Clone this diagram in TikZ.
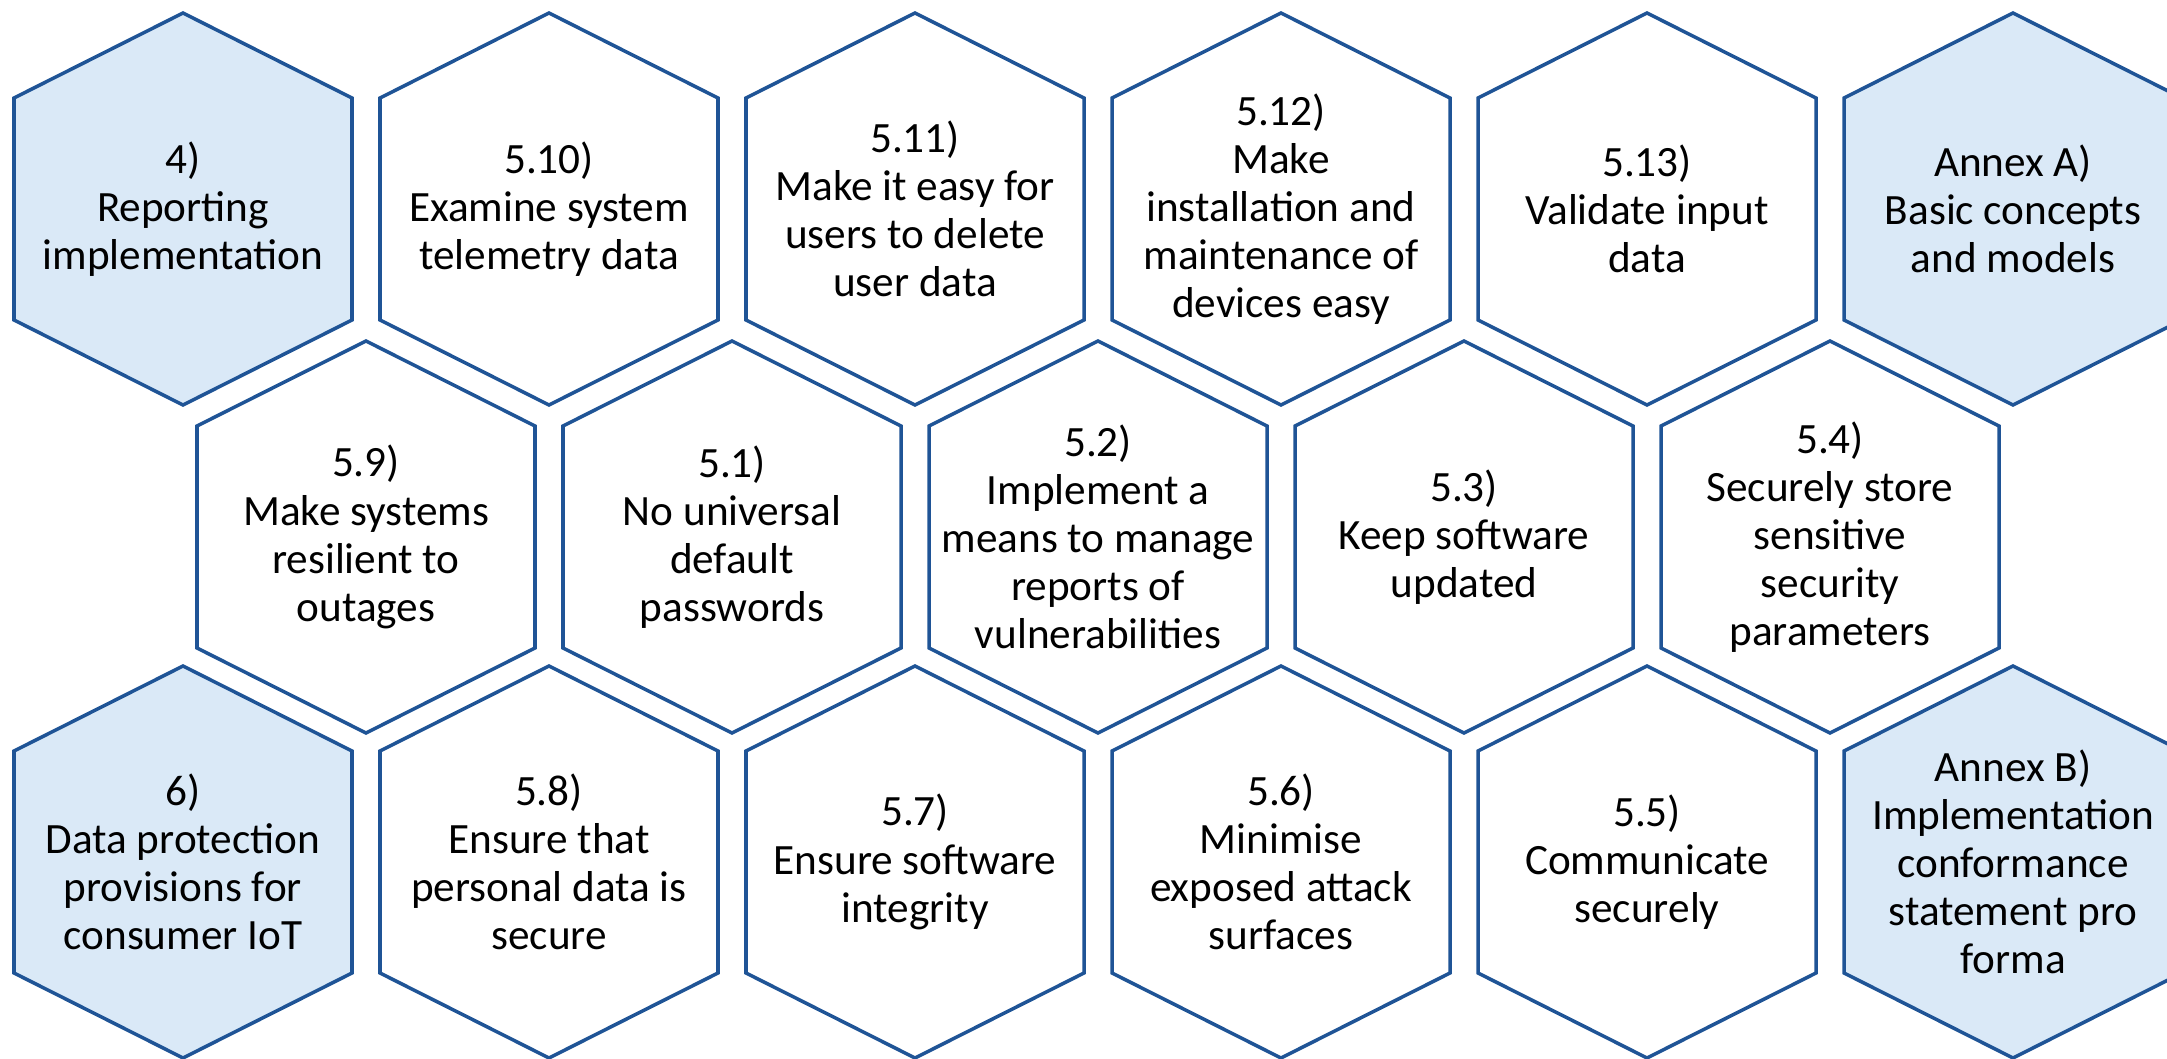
\documentclass[tikz,border=0pt]{standalone}
\usepackage{fontspec}
\setmainfont{Carlito}

\definecolor{hexedge}{RGB}{31,84,150}
\definecolor{hexblue}{RGB}{218,233,247}

\tikzset{
  whitecell/.style={draw=hexedge, line width=1pt, line join=miter, fill=white},
  bluecell/.style={whitecell, fill=hexblue},
  celltext/.style={align=center, inner sep=0pt, font=\fontsize{12.3}{13.7}\selectfont}
}

% outline of one cell, starting at its centre
\newcommand{\cellshape}{++(0,1.96) -- ++(1.69,-0.85) -- ++(0,-2.22) -- ++(-1.69,-0.85) -- ++(-1.69,0.85) -- ++(0,2.22) -- cycle}
\newcommand{\hexcell}[4]{%
  \draw[#3] (#2) \cellshape;
  \node[celltext] (#1) at (#2) {#4};}

\begin{document}
\begin{tikzpicture}

\clip (0,0) rectangle (21.67,-10.59);
\useasboundingbox (0,0) rectangle (21.67,-10.59);

% top row
\hexcell{S4}{1.83,-2.09}{bluecell}{4)\\Reporting\\implementation}
\hexcell{S510}{5.49,-2.09}{whitecell}{5.10)\\Examine system\\telemetry data}
\hexcell{S511}{9.15,-2.09}{whitecell}{5.11)\\Make it easy for\\users to delete\\user data}
\hexcell{S512}{12.81,-2.09}{whitecell}{5.12)\\Make\\installation and\\maintenance of\\devices easy}
\hexcell{S513}{16.47,-2.09}{whitecell}{5.13)\\Validate input\\data}
\hexcell{AnnexA}{20.13,-2.09}{bluecell}{Annex A)\\Basic concepts\\and models}

% middle row
\hexcell{S59}{3.66,-5.37}{whitecell}{5.9)\\Make systems\\resilient to\\outages}
\hexcell{S51}{7.32,-5.37}{whitecell}{5.1)\\No universal\\default\\passwords}
\hexcell{S52}{10.98,-5.37}{whitecell}{5.2)\\Implement a\\means to manage\\reports of\\vulnerabilities}
\hexcell{S53}{14.64,-5.37}{whitecell}{5.3)\\Keep software\\updated}
\hexcell{S54}{18.30,-5.37}{whitecell}{5.4)\\Securely store\\sensitive\\security\\parameters}

% bottom row
\hexcell{S6}{1.83,-8.62}{bluecell}{6)\\Data protection\\provisions for\\consumer IoT}
\hexcell{S58}{5.49,-8.62}{whitecell}{5.8)\\Ensure that\\personal data is\\secure}
\hexcell{S57}{9.15,-8.62}{whitecell}{5.7)\\Ensure software\\integrity}
\hexcell{S56}{12.81,-8.62}{whitecell}{5.6)\\Minimise\\exposed attack\\surfaces}
\hexcell{S55}{16.47,-8.62}{whitecell}{5.5)\\Communicate\\securely}
\hexcell{AnnexB}{20.13,-8.62}{bluecell}{Annex B)\\Implementation\\conformance\\statement pro\\forma}

\end{tikzpicture}
\end{document}
